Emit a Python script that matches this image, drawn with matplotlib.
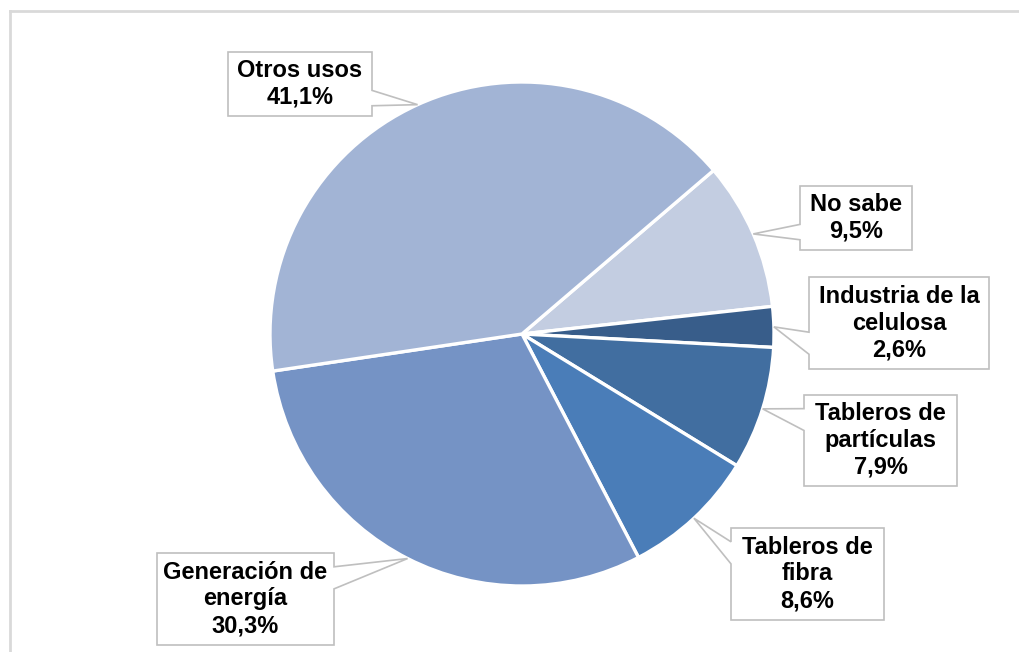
import matplotlib.pyplot as plt
import numpy as np
from matplotlib.patches import Polygon

W, H = 1020, 652

labels = ['No sabe', 'Industria de la\ncelulosa', 'Tableros de\npartículas',
          'Tableros de\nfibra', 'Generación de\nenergía', 'Otros usos']
shares = [9.5, 2.6, 7.9, 8.6, 30.3, 41.1]
colors = ['#C3CDE1', '#385D8A', '#416EA0', '#4A7DB8', '#7593C5', '#A2B4D5']

# callout boxes in pixel coords (left, top, right, bottom)
BOXES = [
    (800, 186, 912, 250),
    (809, 277, 989, 369),
    (804, 395, 957, 486),
    (731, 528, 884, 620),
    (157, 553, 334, 645),
    (228, 52, 372, 116),
]

CENTER = (522, 334)
RADIUS = 252
START = 40.5


def py(y):
    return H - y


def callout(ax, box, tip, text):
    l, t, r, b = box
    h = b - t
    cy = (t + b) / 2
    frac = 0.72 if tip[1] > cy else 0.27
    ny = t + frac * h
    half = 0.12 * h
    if tip[0] > r:
        pts = [(l, t), (r, t), (r, ny - half), tip, (r, ny + half), (r, b), (l, b)]
    else:
        pts = [(l, t), (r, t), (r, b), (l, b), (l, ny + half), tip, (l, ny - half)]
    pts = [(x, py(y)) for x, y in pts]
    ax.add_patch(Polygon(pts, closed=True, facecolor='white',
                         edgecolor='#BFBFBF', linewidth=1.2, zorder=3))
    ax.text((l + r) / 2, py(cy), text, ha='center', va='center',
            fontsize=17, fontweight='bold', family='Liberation Sans',
            linespacing=1.21, zorder=4)


def main():
    fig = plt.figure(figsize=(W / 100, H / 100), dpi=100)
    ax = fig.add_axes([0, 0, 1, 1])

    # outer frame (top and left visible)
    ax.plot([10, W], [py(11), py(11)], color='#D9D9D9', lw=2, zorder=1)
    ax.plot([10, 10], [py(11), 0], color='#D9D9D9', lw=2, zorder=1)

    wedges, _ = ax.pie(shares, colors=colors, startangle=START, counterclock=False,
                       center=(CENTER[0], py(CENTER[1])), radius=RADIUS,
                       wedgeprops=dict(edgecolor='white', linewidth=2.4),
                       frame=True)
    ax.set_xlim(0, W)
    ax.set_ylim(0, H)
    ax.set_aspect('equal')
    ax.axis('off')

    for w, box, lab, val in zip(wedges, BOXES, labels, shares):
        mid = np.deg2rad((w.theta1 + w.theta2) / 2)
        tip = (CENTER[0] + RADIUS * np.cos(mid), CENTER[1] - RADIUS * np.sin(mid))
        text = f'{lab}\n{val:.1f}%'.replace('.', ',')
        callout(ax, box, tip, text)

    fig.savefig('out.png', dpi=100)


if __name__ == '__main__':
    main()
